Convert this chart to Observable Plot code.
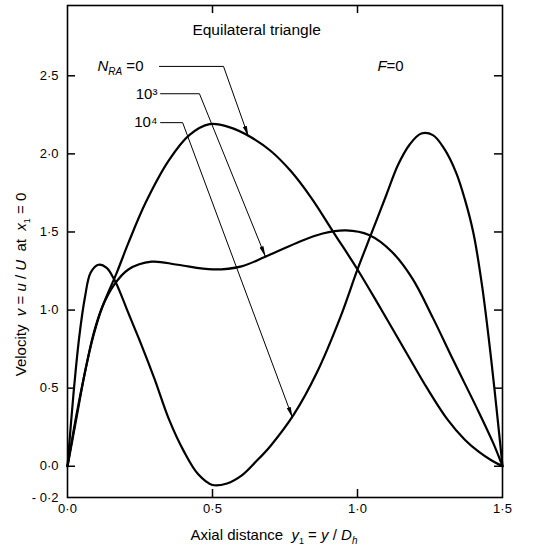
<!DOCTYPE html>
<html><head><meta charset="utf-8">
<script src="https://cdn.jsdelivr.net/npm/d3@7"></script>
<script src="https://cdn.jsdelivr.net/npm/@observablehq/plot@0.6"></script>
<style>body{margin:0;background:#fff} svg{display:block}</style>
</head><body><div id="chart"></div>
<script>
// N_RA = 0
const xN0 = [0, 0.03, 0.06, 0.09, 0.12, 0.17, 0.21, 0.27, 0.35, 0.42, 0.49, 0.56, 0.63, 0.70, 0.77, 0.84, 0.92, 1.0, 1.08, 1.18, 1.24, 1.31, 1.37, 1.42, 1.46, 1.5];
const yN0 = [0, 0.3, 0.6, 0.84, 1.02, 1.24, 1.43, 1.69, 1.96, 2.12, 2.19, 2.17, 2.11, 2.02, 1.89, 1.72, 1.49, 1.26, 1.01, 0.69, 0.50, 0.30, 0.17, 0.09, 0.04, 0];
// N_RA = 10^3
const xN3 = [0, 0.03, 0.06, 0.09, 0.12, 0.16, 0.21, 0.29, 0.38, 0.5, 0.6, 0.68, 0.79, 0.88, 0.96, 1.04, 1.12, 1.19, 1.26, 1.33, 1.42, 1.47, 1.5];
const yN3 = [0, 0.32, 0.6, 0.85, 1.02, 1.16, 1.26, 1.31, 1.29, 1.26, 1.28, 1.34, 1.43, 1.49, 1.51, 1.48, 1.37, 1.2, 0.95, 0.68, 0.34, 0.14, 0];
// N_RA = 10^4
const xN4 = [0, 0.02, 0.04, 0.06, 0.08, 0.107, 0.135, 0.16, 0.18, 0.21, 0.25, 0.3, 0.35, 0.4, 0.45, 0.5, 0.55, 0.6, 0.65, 0.7, 0.78, 0.86, 0.94, 1.0, 1.05, 1.1, 1.14, 1.18, 1.22, 1.26, 1.3, 1.34, 1.37, 1.40, 1.43, 1.46, 1.48, 1.5];
const yN4 = [0, 0.45, 0.82, 1.08, 1.24, 1.29, 1.27, 1.2, 1.12, 0.98, 0.8, 0.56, 0.3, 0.1, -0.05, -0.12, -0.11, -0.06, 0.03, 0.13, 0.33, 0.6, 0.95, 1.26, 1.5, 1.74, 1.93, 2.06, 2.13, 2.12, 2.03, 1.88, 1.71, 1.49, 1.15, 0.7, 0.36, 0];

const seriesNames = ["0", "1e3", "1e4"];
const seriesX = [xN0, xN3, xN4];
const seriesY = [yN0, yN3, yN4];

// axis ticks
const yTicks = [0, 0.5, 1.0, 1.5, 2.0, 2.5];
const yLabelTicks = [-0.2, 0, 0.5, 1.0, 1.5, 2.0, 2.5];
const xTicks = [0.5, 1.0];
const xLabelTicks = [0, 0.5, 1.0, 1.5];

// annotations (data units)
const labelTexts = ["NRA=0", "10³", "10⁴"];
const labelX = [0.262, 0.31, 0.31];
const leaderX0 = [0.317, 0.321, 0.321];
const leaderY = [2.56, 2.385, 2.20];
const cornerX = [0.538, 0.455, 0.397];
const tipX = [0.624, 0.683, 0.776];
const tipY = [2.11, 1.34, 0.31];
const titleText = ["Equilateral triangle"];
const titleX = [0.652], titleY = [2.79];
const fText = ["F=0"];
const fX = [1.114], fY = [2.56];

const fmt = v => (v < 0 ? "- " : "") + Math.abs(v).toFixed(1).replace(".", "·");

const X0 = 0, X1 = 1.5, Y0 = -0.2, Y1 = 2.95;
const curveData = seriesNames.flatMap((s, k) => seriesX[k].map((x, i) => ({series: s, x, y: seriesY[k][i]})));
const leaderData = labelTexts.flatMap((t, i) => [
  {k: i, x: leaderX0[i], y: leaderY[i]},
  {k: i, x: cornerX[i], y: leaderY[i]},
  {k: i, x: tipX[i], y: tipY[i]}
]);
const labelData = labelTexts.map((t, i) => ({t, x: labelX[i], y: leaderY[i]}));

function filledArrow(color) {
  const m = d3.create("svg:marker")
    .attr("viewBox", "-11 -4 11 8")
    .attr("markerWidth", 11).attr("markerHeight", 8)
    .attr("markerUnits", "userSpaceOnUse")
    .attr("orient", "auto").attr("refX", 0).attr("refY", 0);
  m.append("path").attr("d", "M-11,-2.1L0,0L-11,2.1Z").attr("fill", color).attr("stroke", "none");
  return m.node();
}

const FONT = "'Liberation Sans', Arial, Helvetica, sans-serif";
const W = 544, H = 548, ML = 67, MR = 42, MT = 5, MB = 51;
const FW = W - ML - MR, FH = H - MT - MB, TICK = 8;
// tick length expressed in data units of each axis
const tx = TICK * (X1 - X0) / FW, ty = TICK * (Y1 - Y0) / FH;

const chart = Plot.plot({
  width: W, height: H,
  marginLeft: ML, marginRight: MR, marginTop: MT, marginBottom: MB,
  x: {domain: [X0, X1]},
  y: {domain: [Y0, Y1]},
  style: {fontFamily: FONT, fontSize: "13px", color: "#000", background: "#fff"},
  marks: [
    Plot.line(curveData, {x: "x", y: "y", z: "series", curve: "catmull-rom", stroke: "#000", strokeWidth: 2.2}),
    Plot.frame({stroke: "#000", strokeWidth: 1.6}),
    Plot.ruleY(yTicks, {y: d => d, x1: X0, x2: X0 + tx, stroke: "#000", strokeWidth: 1.5}),
    Plot.ruleY(yTicks, {y: d => d, x1: X1 - tx, x2: X1, stroke: "#000", strokeWidth: 1.5}),
    Plot.ruleX(xTicks, {x: d => d, y1: Y1 - ty, y2: Y1, stroke: "#000", strokeWidth: 1.5}),
    Plot.ruleX(xTicks, {x: d => d, y1: Y0, y2: Y0 + ty, stroke: "#000", strokeWidth: 1.5}),
    Plot.axisY(yLabelTicks, {anchor: "left", tickSize: 0, tickPadding: 9, tickFormat: fmt, label: null, fontSize: 13}),
    Plot.axisX(xLabelTicks, {anchor: "bottom", tickSize: 0, tickPadding: 6, tickFormat: fmt, label: null, fontSize: 13}),
    Plot.line(leaderData, {x: "x", y: "y", z: "k", stroke: "#000", strokeWidth: 1, markerEnd: filledArrow}),
    Plot.text(labelData, {x: "x", y: "y", text: "t", textAnchor: "end", fontSize: 15}),
    Plot.text(titleText, {x: titleX, y: titleY, text: d => d, fontSize: 15.5}),
    Plot.text(fText, {x: fX, y: fY, text: d => d, fontSize: 15}),
    Plot.text(["XTITLE"], {frameAnchor: "bottom", lineAnchor: "middle", textAnchor: "middle", dy: 38, dx: -11, text: d => d, fontSize: 15}),
    Plot.text(["YTITLE"], {frameAnchor: "left", textAnchor: "middle", lineAnchor: "middle", dx: -46, dy: 33, rotate: -90, text: d => d, fontSize: 15})
  ]
});

document.getElementById("chart").appendChild(chart);

function rich(content, parts) {
  d3.select(chart).selectAll("text").filter(function () { return this.textContent === content; })
    .each(function () {
      const t = d3.select(this);
      t.text(null);
      parts.forEach(p => {
        const s = t.append("tspan").text(p.t);
        if (p.i) s.attr("font-style", "italic");
        if (p.fs) s.attr("font-size", p.fs);
        if (p.dy) s.attr("dy", p.dy);
      });
    });
}

rich("NRA=0", [{t: "N", i: true}, {t: "RA", i: true, fs: 10, dy: 4}, {t: " =0", dy: -4}]);
rich("F=0", [{t: "F", i: true}, {t: "=0"}]);
rich("XTITLE", [{t: "Axial distance  "}, {t: "y", i: true}, {t: "1", fs: 9, dy: 4}, {t: " = ", dy: -4}, {t: "y", i: true}, {t: " / "}, {t: "D", i: true}, {t: "h", i: true, fs: 10, dy: 4}]);
rich("YTITLE", [{t: "Velocity  "}, {t: "v", i: true}, {t: " = "}, {t: "u", i: true}, {t: " / "}, {t: "U", i: true}, {t: "  at  "}, {t: "x", i: true}, {t: "1", fs: 9, dy: 4}, {t: " = 0", dy: -4}]);
</script>
</body></html>
